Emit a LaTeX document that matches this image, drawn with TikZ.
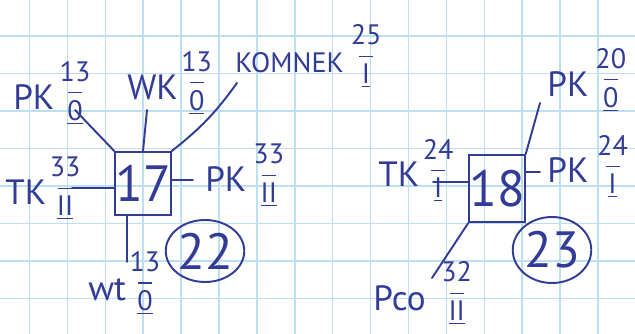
\documentclass[tikz,border=0pt]{standalone}
\usepackage{fontspec}
\setmainfont{PT Sans}
\usetikzlibrary{shapes.geometric}
\definecolor{inkBlue}{RGB}{50,60,150}
\definecolor{gridCyan}{RGB}{188,224,240}
\newcommand{\namefont}{\fontsize{20}{20}\selectfont}
\newcommand{\numfont}{\fontsize{16}{16}\selectfont}
\newcommand{\bignum}{\fontsize{29}{29}\selectfont}
% name, then number over a bar over the underlined level
\newcommand{\cab}[4][2pt]{#2\kern#1{\numfont\raisebox{-6pt}{\vbox{\offinterlineskip
  \halign{\hfil##\hfil\cr #3\cr\noalign{\kern6pt}
  \rule{0.5em}{0.7pt}\cr\noalign{\kern4pt}
  \underline{#4}\cr}}}}}
\tikzset{
    gridline/.style={draw=gridCyan, line width=0.9pt},
    inkline/.style={draw=inkBlue, line width=1.1pt, line cap=round},
    roombox/.style={
        rectangle,
        draw=inkBlue,
        line width=1.1pt,
        text=inkBlue,
        font=\bignum,
        inner sep=0pt,
        minimum width=1cm
    },
    roomring/.style={
        ellipse,
        draw=inkBlue,
        line width=1.1pt,
        text=inkBlue,
        font=\bignum,
        inner sep=0pt
    },
    cablabel/.style={anchor=base west, text=inkBlue, font=\namefont, inner sep=0pt}
}
\begin{document}
\begin{tikzpicture}[x=0.02cm,y=-0.02cm]
    \useasboundingbox[fill=white] (0,0) rectangle (635,334);
    % squared paper
    \foreach \gx in {0,...,15} {
        \draw[gridline] ({29.5+37.9*\gx},0) -- ++(0,334);
    }
    \foreach \gy in {0,...,7} {
        \draw[gridline] (0,{36+37.5*\gy}) -- ++(635,0);
    }

    % room 17
    \node[roombox, minimum height=1.26cm] (box17) at (143,183.5) {17};
    \node[roomring, minimum width=1.52cm, minimum height=1.24cm] (ring22) at (205,251) {22};
    \node[cablabel] (pk13) at (13,110) {\cab[3pt]{PK}{13}{0}};
    \node[cablabel] (wk13) at (127,100) {\cab{WK}{13}{0}};
    \node[cablabel, font=\fontsize{16}{16}\selectfont] (komnek) at (235,73) {\cab[4pt]{KOMNEK}{25}{I}};
    \node[cablabel] (tk33) at (5,205) {\cab{TK}{33}{II}};
    \node[cablabel] (pk33) at (205,192) {\cab[4pt]{PK}{33}{II}};
    \node[cablabel] (wt13) at (88,300) {\cab{wt}{13}{0}};
    \coordinate (pk13end) at (75,110);
    \coordinate (wk13end) at (147,110);
    \coordinate (komnekend) at (237,83);
    \coordinate (tk33end) at (72,188);
    \coordinate (pk33end) at (193,180);
    \coordinate (wt13end) at (127,262);
    \draw[inkline] (box17.north west) -- (pk13end);
    \draw[inkline] (box17.north) -- (wk13end);
    \draw[inkline] (box17.north east) to[bend right=8] (komnekend);
    \draw[inkline] (box17.west |- tk33end) -- (tk33end);
    \draw[inkline] (box17.east |- pk33end) -- (pk33end);
    \draw[inkline] (wt13end |- box17.south) -- (wt13end);

    % room 18
    \node[roombox, minimum height=1.34cm] (box18) at (497,188.5) {18};
    \node[roomring, minimum width=1.4cm, minimum height=1.32cm] (ring23) at (552,250) {23};
    \node[cablabel] (pk20) at (547,97) {\cab[4pt]{PK}{20}{0}};
    \node[cablabel] (tk24) at (378,187) {\cab{TK}{24}{I}};
    \node[cablabel] (pk24) at (547,183) {\cab[5pt]{PK}{24}{I}};
    \node[cablabel] (pco32) at (373,310) {\cab[9pt]{Pco}{32}{II}};
    \coordinate (pk20end) at (540,103);
    \coordinate (tk24end) at (433,182);
    \coordinate (pk24end) at (540,172);
    \coordinate (pco32end) at (432,278);
    \draw[inkline] (box18.north east) -- (pk20end);
    \draw[inkline] (box18.west |- tk24end) -- (tk24end);
    \draw[inkline] (box18.east |- pk24end) -- (pk24end);
    \draw[inkline] (box18.south west) -- (pco32end);
\end{tikzpicture}
\end{document}
